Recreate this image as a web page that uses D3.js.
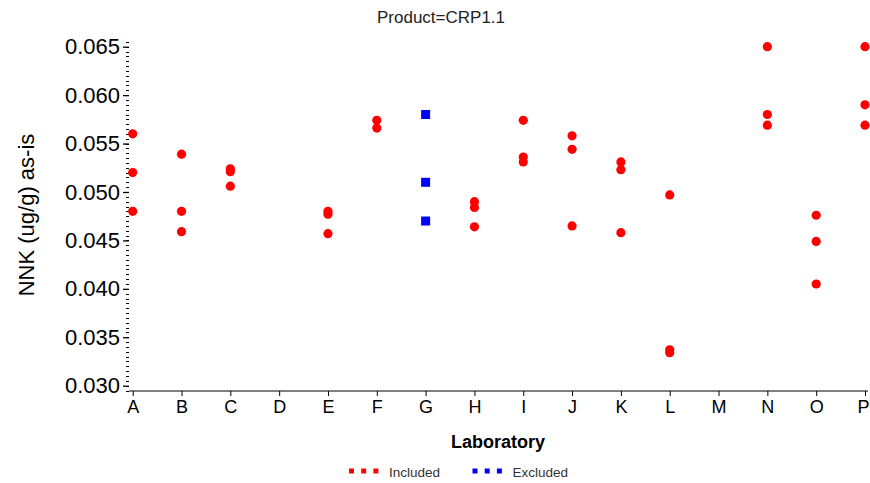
<!DOCTYPE html>
<html>
<head>
<meta charset="utf-8">
<script src="https://cdn.jsdelivr.net/npm/d3@7"></script>
<style>
  body { margin: 0; background: #fff; }
  svg { display: block; font-family: "Liberation Sans", Arial, sans-serif; }
</style>
</head>
<body>
<svg id="chart" width="870" height="483"></svg>
<script>
// laboratories on the x axis
var labs = ["A","B","C","D","E","F","G","H","I","J","K","L","M","N","O","P"];

// NNK results, [lab, value]
var included = [
  ["A",0.0560],["A",0.0520],["A",0.0480],
  ["B",0.0539],["B",0.0480],["B",0.0459],
  ["C",0.0524],["C",0.0521],["C",0.0506],
  ["E",0.0480],["E",0.0477],["E",0.0457],
  ["F",0.0574],["F",0.0566],
  ["H",0.0490],["H",0.0484],["H",0.0464],
  ["I",0.0574],["I",0.0536],["I",0.0531],
  ["J",0.0558],["J",0.0544],["J",0.0465],
  ["K",0.0531],["K",0.0523],["K",0.0458],
  ["L",0.0497],["L",0.0337],["L",0.0334],
  ["N",0.0650],["N",0.0580],["N",0.0569],
  ["O",0.0476],["O",0.0449],["O",0.0405],
  ["P",0.0650],["P",0.0590],["P",0.0569]
];
var excluded = [["G",0.0580],["G",0.0510],["G",0.0470]];

var yTicks = [0.030,0.035,0.040,0.045,0.050,0.055,0.060,0.065];
var legendItems = ["Included","Excluded"];
var legendColors = ["#ff0000","#0000ff"];

var svg = d3.select("svg#chart"),
    left = 129, right = 868, top = 42, bottom = 391;

var x = d3.scalePoint().domain(labs).range([132.7, 865]);
var y = d3.scaleLinear().domain([0.030, 0.065]).range([385.7, 46.7]);

// frame
svg.append("rect")
    .attr("x", left).attr("y", top)
    .attr("width", right - left).attr("height", bottom - top)
    .attr("fill", "none").attr("stroke", "#444").attr("stroke-width", 1.2);

// minor y ticks
var minor = d3.range(0.0295, 0.0656, 0.0005);
svg.append("g").selectAll("line").data(minor).enter().append("line")
    .attr("x1", left - 3).attr("x2", left)
    .attr("y1", function(d) { return Math.round(y(d)) + 0.5; })
    .attr("y2", function(d) { return Math.round(y(d)) + 0.5; })
    .attr("stroke", "#000").attr("stroke-width", 1);

// y axis
var yAxis = svg.append("g")
    .attr("transform", "translate(" + left + ",0)")
    .call(d3.axisLeft(y).tickValues(yTicks).tickFormat(d3.format(".3f")).tickSize(6).tickPadding(3));
yAxis.select(".domain").attr("stroke", "#000").attr("d", "M0," + top + "V" + bottom);
yAxis.selectAll("text").attr("font-size", 22).attr("fill", "#000").attr("font-family", "Liberation Sans, Arial, sans-serif");
yAxis.selectAll(".tick line").attr("stroke-width", 1.3);

// x axis
var xAxis = svg.append("g")
    .attr("transform", "translate(0," + bottom + ")")
    .call(d3.axisBottom(x).tickSize(5).tickPadding(4));
xAxis.select(".domain").attr("stroke", "#000").attr("d", "M" + left + ",0H" + right);
xAxis.selectAll("text").attr("font-size", 18).attr("fill", "#000").attr("font-family", "Liberation Sans, Arial, sans-serif");
xAxis.selectAll("text").filter(function(d) { return d === "P"; }).attr("dx", -2);

// points
svg.append("g").selectAll("circle").data(included).enter().append("circle")
    .attr("cx", function(d) { return x(d[0]); })
    .attr("cy", function(d) { return y(d[1]); })
    .attr("r", 4.6)
    .attr("fill", legendColors[0]);

svg.append("g").selectAll("rect").data(excluded).enter().append("rect")
    .attr("x", function(d) { return x(d[0]) - 4.5; })
    .attr("y", function(d) { return y(d[1]) - 4.5; })
    .attr("width", 9).attr("height", 9)
    .attr("fill", legendColors[1]);

// titles
svg.append("text")
    .attr("x", 441).attr("y", 23)
    .attr("text-anchor", "middle").attr("font-size", 17).attr("fill", "#222")
    .text("Product=CRP1.1");

svg.append("text")
    .attr("transform", "translate(34,215) rotate(-90)")
    .attr("text-anchor", "middle").attr("font-size", 22).attr("fill", "#000")
    .text("NNK (ug/g) as-is");

svg.append("text")
    .attr("x", 498).attr("y", 448)
    .attr("text-anchor", "middle").attr("font-size", 18).attr("font-weight", "bold").attr("fill", "#000")
    .text("Laboratory");

// legend
var leg = svg.append("g").selectAll("g").data(legendItems).enter().append("g")
    .attr("transform", function(d, i) { return "translate(" + (349 + i * 123.5) + ",0)"; });
leg.each(function(d, i) {
  var g = d3.select(this);
  g.selectAll("rect").data([0, 1, 2]).enter().append("rect")
      .attr("x", function(k) { return k * 12.2; }).attr("y", 468.5)
      .attr("width", 5).attr("height", 5)
      .attr("fill", legendColors[i]);
  g.append("text")
      .attr("x", 40).attr("y", 476.5)
      .attr("font-size", 13.5).attr("fill", "#333")
      .text(d);
});
</script>
</body>
</html>
